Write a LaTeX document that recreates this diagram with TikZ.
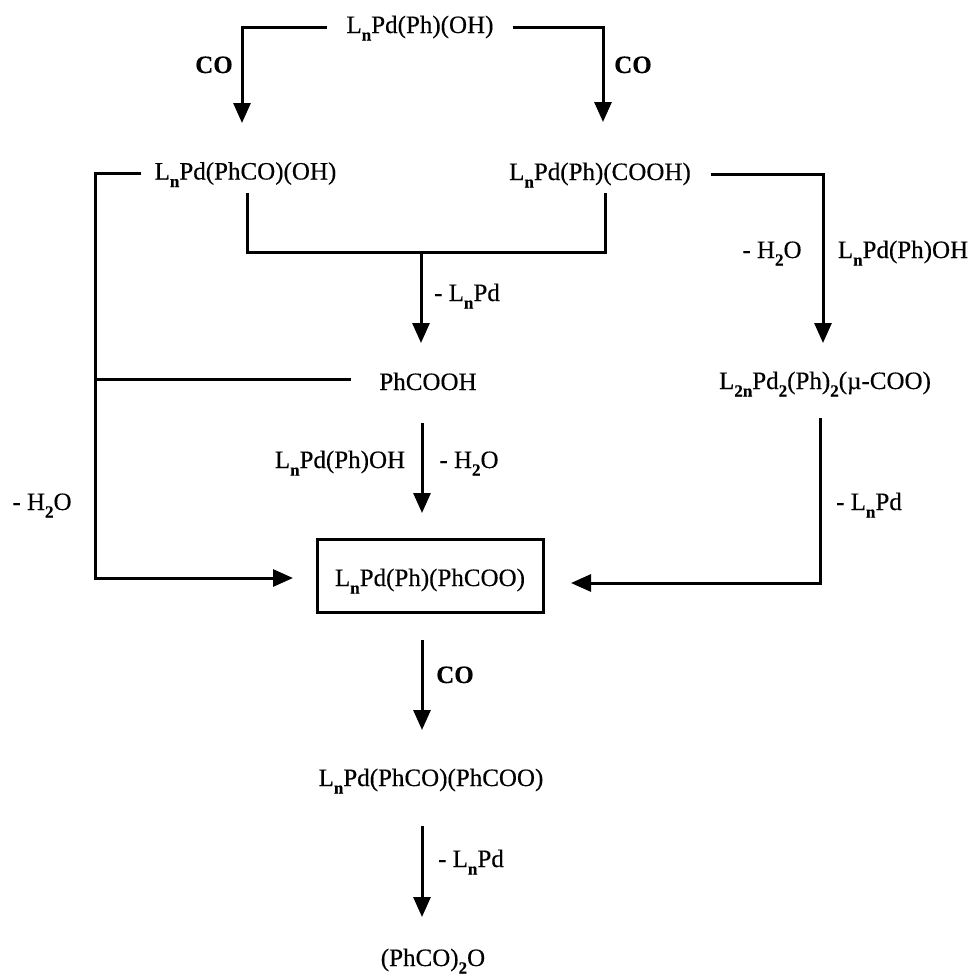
\documentclass[tikz,border=0pt]{standalone}
\usepackage{fontspec}
\setmainfont{Liberation Serif}[FakeBold=0.3]
\usepackage{tikz}
\usetikzlibrary{arrows.meta, calc}
\newcommand{\sub}[1]{\raisebox{-0.3em}{\fontsize{8.5}{10}\selectfont\textbf{#1}}}
\newcommand{\Ln}{L\sub{n}}
\begin{document}
\begin{tikzpicture}[
    x=0.5pt, y=-0.5pt,
    species/.style={inner xsep=2.5pt, inner ysep=1pt, text height=8.5pt, text depth=2.5pt,
      font=\fontsize{12.5}{15}\selectfont},
    condition/.style={inner sep=0pt, text height=8.5pt, text depth=2.5pt,
      font=\fontsize{12.5}{15}\selectfont},
    gas/.style={condition, font=\fontsize{12.5}{15}\selectfont\bfseries},
    boxed/.style={draw, line width=1.5pt, minimum width=113pt, minimum height=36.5pt, inner sep=0pt,
      text height=10.5pt, text depth=0pt, font=\fontsize{12.5}{15}\selectfont},
    line/.style={line width=1.5pt},
    arrow/.style={line width=1.5pt, -{Triangle[width=8.5pt, length=10pt]}}
]
\useasboundingbox (0,0) rectangle (973,976);

% species
\node[species, inner xsep=9.5pt] (start) at (420,27) {\Ln Pd(Ph)(OH)};
\node[species, inner xsep=6.5pt] (acyl) at (245.5,173.5) {\Ln Pd(PhCO)(OH)};
\node[species, inner xsep=10pt] (acid) at (600,174) {\Ln Pd(Ph)(COOH)};
\node[species, inner xsep=14pt] (phcooh) at (428,384) {PhCOOH};
\node[species] (dimer) at (825,383) {L\sub{2n}Pd\sub{2}(Ph)\sub{2}(µ-COO)};
\node[boxed] (key) at (430,575.5) {\Ln Pd(Ph)(PhCOO)};
\node[species] (acylcarb) at (431,780) {\Ln Pd(PhCO)(PhCOO)};
\node[species] (anhydride) at (433,960) {(PhCO)\sub{2}O};

% bends and free ends
\coordinate (acylIn) at (242,123);
\coordinate (acidIn) at (603,122);
\coordinate (leftBus) at (95,379);
\coordinate (braceL) at (247,252);
\coordinate (braceR) at (605,252);
\coordinate (braceMid) at (421,252);
\coordinate (phcoohIn) at (421,343);
\coordinate (phcoohOut) at (422,423);
\coordinate (keyIn) at (422,513);
\coordinate (keyOut) at (422,640);
\coordinate (acylcarbIn) at (422,730);
\coordinate (acylcarbOut) at (422,826);
\coordinate (anhydrideIn) at (422,917);
\coordinate (keyW) at (293,578);
\coordinate (keyE) at (571,583);
\coordinate (dimerIn) at (823,343);
\coordinate (dimerOut) at (820,418);

% connectors
\draw[arrow] (start.west) -| (acylIn);
\draw[arrow] (start.east) -| (acidIn);
\draw[line] ($(acyl.south -| braceL)+(0,6)$) -- (braceL) -- (braceR) -- ($(acid.south -| braceR)+(0,6)$);
\draw[arrow] (braceMid) -- (phcoohIn);
\draw[line] (phcooh.west |- leftBus) -- (leftBus);
\draw[arrow] (acyl.west) -| (leftBus) |- (keyW);
\draw[arrow] (phcoohOut) -- (keyIn);
\draw[arrow] (acid.east) -| (dimerIn);
\draw[arrow] (dimerOut) |- (keyE);
\draw[arrow] (keyOut) -- (acylcarbIn);
\draw[arrow] (acylcarbOut) -- (anhydrideIn);

% conditions
\node[gas] (co1) at (214,67) {CO};
\node[gas] (co2) at (633,67) {CO};
\node[condition] (loss1) at (467,295) {- \Ln Pd};
\node[condition] (reag1) at (340,462) {\Ln Pd(Ph)OH};
\node[condition] (loss2) at (469,462) {- H\sub{2}O};
\node[condition] (loss3) at (772,252) {- H\sub{2}O};
\node[condition] (reag2) at (903,252) {\Ln Pd(Ph)OH};
\node[condition] (loss4) at (869,504) {- \Ln Pd};
\node[condition] (loss5) at (42,504) {- H\sub{2}O};
\node[gas] (co3) at (455,677) {CO};
\node[condition] (loss6) at (471,861) {- \Ln Pd};
\end{tikzpicture}
\end{document}
